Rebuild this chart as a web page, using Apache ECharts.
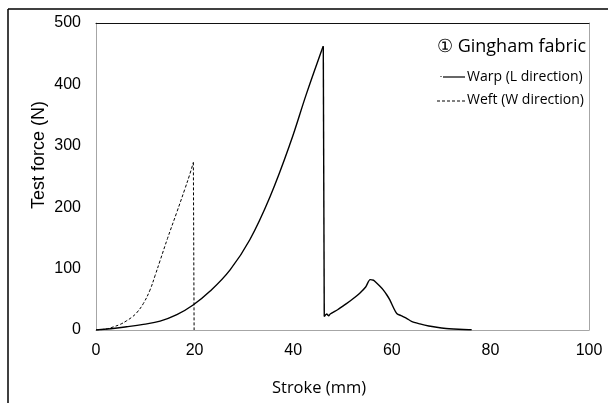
<!DOCTYPE html>
<html><head><meta charset="utf-8">
<script src="https://cdn.jsdelivr.net/npm/echarts@6/dist/echarts.min.js"></script>
<style>html,body{margin:0;padding:0;background:#fff}#c{width:608px;height:403px}</style>
</head><body><div id="c"></div>
<script>
const xTicks = [0, 20, 40, 60, 80, 100];
const yTicks = [0, 100, 200, 300, 400, 500];
const warpRise = [[0,0],[3,2],[6.2,5.2],[9.6,9.2],[13,14.5],[16.4,25],[19.7,40.7],[23.1,63],[27.2,98],[31.2,147],[35.3,217],[39.4,304],[42.7,385],[45.8,456],[46.1,462]];
const warpTail = [[46.3,22],[46.8,26],[47.2,23],[47.5,26],[49,33],[50.8,43],[52,50],[53.5,60],[54.7,70],[55.6,82],[56.3,81],[56.6,79],[57.5,72],[58.3,65],[59,57],[59.6,49],[60.3,37],[61,27],[62,23],[63,19],[64,14],[65.7,10],[67.5,6.5],[69.1,4.4],[71,2.5],[72.5,1.6],[74.5,0.8],[76.2,0.5]];
const weftRise = [[0,0],[2,1.5],[3.5,5],[5,9.5],[6.2,15],[7.3,21],[8.25,28],[9.6,43],[10.95,65],[12,89],[13,113],[14.5,149],[16.4,192],[18,229],[19,253],[19.75,273]];
const weftDrop = [[19.9,0]];
const titleText = '① Gingham fabric';
const warpName = 'Warp (L direction)';
const weftName = 'Weft (W direction)';

const warpDrop = [warpRise[warpRise.length-1], warpTail[0]];
const weftDropLine = [weftRise[weftRise.length-1]].concat(weftDrop);

const chart = echarts.init(document.getElementById('c'), null, {renderer:'canvas'});
const noAx = {axisTick:{show:false}, axisLabel:{show:false}, splitLine:{show:false}};
const solid = {color:'#000', width:1.4};
const dashed = {color:'#000', width:1, type:[3,2]};
function s(name, data, smooth, ls){ return {name:name, type:'line', data:data, showSymbol:false, symbol:'none', smooth:smooth, lineStyle:ls}; }
chart.setOption({
  animation:false,
  grid:{left:96, top:23, right:19, bottom:73},
  xAxis:[{type:'value', min:0, max:100, interval:20,
    axisLine:{show:true, onZero:false, lineStyle:{color:'#a6a6a6', width:1}},
    axisTick:{show:false}, splitLine:{show:false},
    axisLabel:{color:'#000', fontFamily:'Liberation Sans', fontSize:16, margin:13}},
    Object.assign({type:'value', position:'top', min:0, max:100, axisLine:{show:true, onZero:false, lineStyle:{color:'#111', width:1}}}, noAx)],
  yAxis:[{type:'value', min:0, max:500, interval:100,
    axisLine:{show:true, onZero:false, lineStyle:{color:'#a6a6a6', width:1}},
    axisTick:{show:false}, splitLine:{show:false},
    axisLabel:{color:'#000', fontFamily:'Liberation Sans', fontSize:16, margin:15}},
    Object.assign({type:'value', position:'right', min:0, max:500, axisLine:{show:true, onZero:false, lineStyle:{color:'#a6a6a6', width:1}}}, noAx)],
  series:[
    s(warpName, warpRise, 0.4, solid),
    s(warpName, warpDrop, false, solid),
    s(warpName, warpTail, 0.25, solid),
    s(weftName, weftRise, 0.4, dashed),
    s(weftName, weftDropLine, false, dashed)
  ],
  graphic:[
    {type:'line', shape:{x1:8, y1:9, x2:608, y2:9}, style:{stroke:'#000', lineWidth:1.5}},
    {type:'line', shape:{x1:8, y1:9, x2:8, y2:403}, style:{stroke:'#000', lineWidth:1.5}},
    {type:'text', x:319, y:388, style:{text:'Stroke (mm)', fill:'#000', font:'16.5px "Open Sans"', textAlign:'center', textVerticalAlign:'middle'}},
    {type:'text', x:39, y:155, rotation:Math.PI/2, style:{text:'Test force (N)', fill:'#000', font:'18px "Liberation Sans"', textAlign:'center', textVerticalAlign:'middle'}},
    {type:'text', x:437, y:47, style:{text:titleText, fill:'#000', font:'18px "Open Sans"', textAlign:'left', textVerticalAlign:'middle'}},
    {type:'line', shape:{x1:443, y1:77, x2:465, y2:77}, style:{stroke:'#000', lineWidth:1.2}},
    {type:'line', shape:{x1:440.5, y1:76.5, x2:441.5, y2:76.5}, style:{stroke:'#000', lineWidth:1}},
    {type:'text', x:467, y:77, style:{text:warpName, fill:'#000', font:'14px "Open Sans"', textAlign:'left', textVerticalAlign:'middle'}},
    {type:'line', shape:{x1:437, y1:101, x2:465, y2:101}, style:{stroke:'#000', lineWidth:1, lineDash:[3,2]}},
    {type:'text', x:467, y:100, style:{text:weftName, fill:'#000', font:'14px "Open Sans"', textAlign:'left', textVerticalAlign:'middle'}}
  ]
});
</script></body></html>
